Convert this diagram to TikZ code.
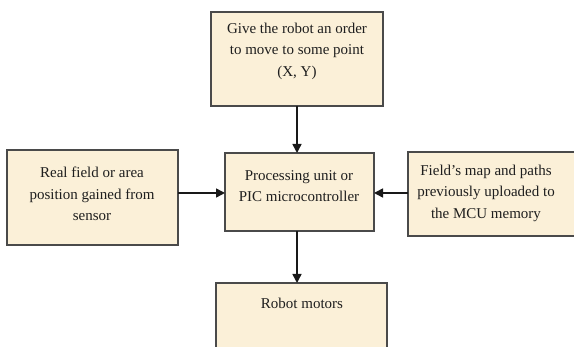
\documentclass[tikz,border=0pt]{standalone}
\usepackage{fontspec}
\setmainfont{Liberation Serif}
\usetikzlibrary{arrows.meta,shadows}
\definecolor{boxfill}{HTML}{FBF0D8}
\definecolor{boxline}{HTML}{4A4A4A}
\definecolor{txt}{HTML}{1E1E1E}
\begin{document}
\begin{tikzpicture}[x=1pt,y=1pt,
  box/.style={draw=boxline,line width=1.4pt,fill=boxfill,
    drop shadow={shadow xshift=1pt,shadow yshift=-1pt,fill=black!35,opacity=0.6}},
  lbl/.style={align=center,font=\fontsize{15}{21.5}\selectfont,text=txt,inner sep=0pt},
  conn/.style={draw=black!90,line width=1.5pt,-{Triangle[length=9pt,width=9pt]}}]
\useasboundingbox (0,0) rectangle (574,347);
\clip (0,0) rectangle (574,347);
\fill[white] (0,0) rectangle (574,347);
% boxes
\path[box] (211,241) rectangle (383,335);
\coordinate (topS) at (297,241);
\path[box] (7,102) rectangle (178,197);
\coordinate (leftE) at (178,154);
\path[box] (225,116) rectangle (374,194);
\coordinate (cN) at (297,194);
\coordinate (cS) at (297,116);
\coordinate (cW) at (225,154);
\coordinate (cE) at (374,154);
\path[box] (408,111) rectangle (582,195);
\coordinate (rightW) at (408,154);
\path[box] (216,-10) rectangle (387,64);
\coordinate (botN) at (297,64);
% texts
\node[lbl] (t1) at (297,296) {Give the robot an order\\to move to some point\\(X, Y)};
\node[lbl] (t2) at (92,153) {Real field or area\\position gained from\\sensor};
\node[lbl] (t3) at (299,161) {Processing unit or\\PIC microcontroller};
\node[lbl] (t4) at (486,154) {Field’s map and paths\\previously uploaded to\\the MCU memory};
\node[lbl] (t5) at (302,44) {Robot motors};
% connectors
\draw[conn] (topS) -- (cN);
\draw[conn] (leftE) -- (cW);
\draw[conn] (rightW) -- (cE);
\draw[conn] (cS) -- (botN);
\end{tikzpicture}
\end{document}
